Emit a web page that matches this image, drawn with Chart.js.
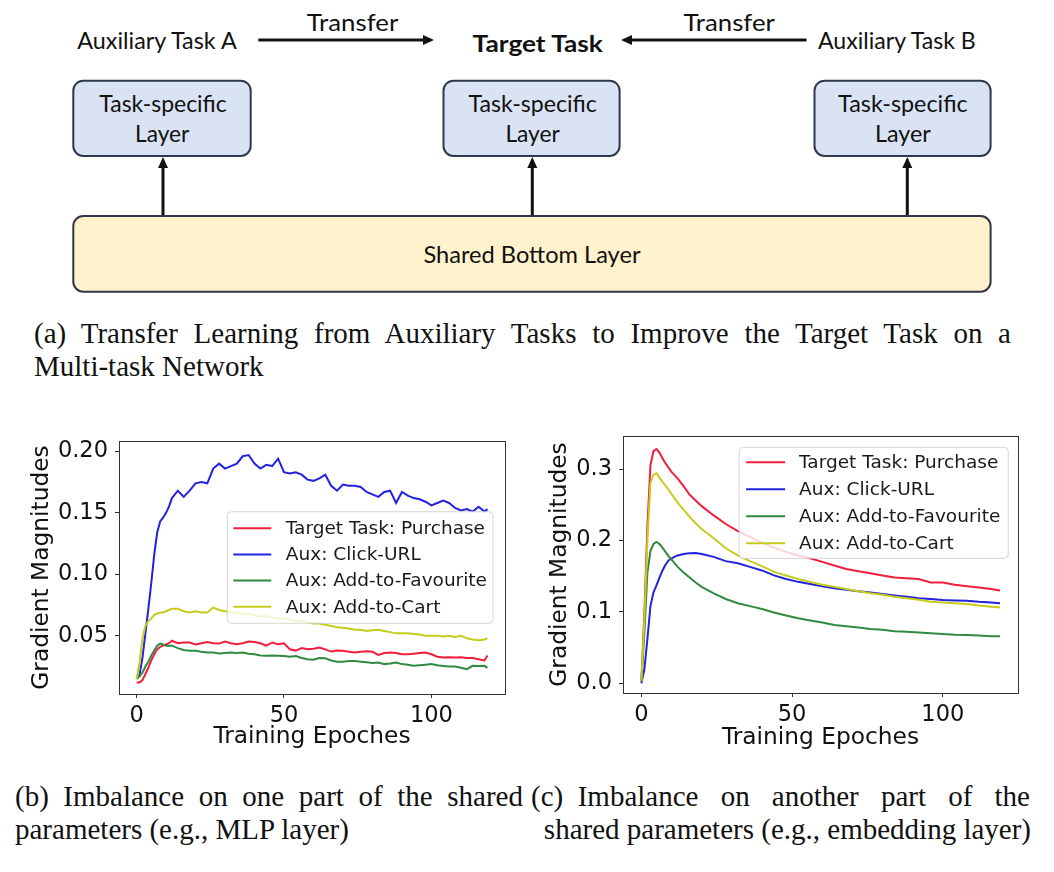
<!DOCTYPE html>
<html>
<head>
<meta charset="utf-8">
<script src="https://cdn.jsdelivr.net/npm/chart.js@4.4.1/dist/chart.umd.min.js"></script>
<style>
html,body{margin:0;padding:0;background:#fff;}
#page{position:relative;width:1054px;height:872px;overflow:hidden;background:#fff;}
#diagram{position:absolute;left:0;top:0;}
.cap{position:absolute;font-family:"Liberation Serif","Times New Roman",serif;font-size:29px;line-height:33px;color:#111;white-space:nowrap;}
.just{text-align:justify;text-align-last:justify;}
canvas{position:absolute;}
</style>
</head>
<body>
<div id="page">
<svg id="diagram" width="1054" height="300" viewBox="0 0 1054 300" font-family="Lato, 'Open Sans', sans-serif" font-size="23" fill="#111">
  <!-- top labels -->
  <text x="306.7" y="31" textLength="91.6" lengthAdjust="spacingAndGlyphs">Transfer</text>
  <text x="683.5" y="31" textLength="91.4" lengthAdjust="spacingAndGlyphs">Transfer</text>
  <text x="77.3" y="49.3" textLength="159.4" lengthAdjust="spacingAndGlyphs">Auxiliary Task A</text>
  <text x="472.6" y="51.7" font-weight="bold" textLength="130.3" lengthAdjust="spacingAndGlyphs">Target Task</text>
  <text x="818" y="49.3" textLength="157.8" lengthAdjust="spacingAndGlyphs">Auxiliary Task B</text>
  <!-- transfer arrows -->
  <line x1="258.3" y1="40" x2="425" y2="40" stroke="#111" stroke-width="3"/>
  <polygon points="434,40 423,35 423,45" fill="#111"/>
  <line x1="630" y1="40" x2="806.5" y2="40" stroke="#111" stroke-width="3"/>
  <polygon points="621,40 632,35 632,45" fill="#111"/>
  <!-- task specific boxes -->
  <rect x="73.3" y="80.7" width="177.4" height="75.3" rx="10" fill="#dae3f3" stroke="#2d3a4c" stroke-width="2"/>
  <rect x="443.5" y="80.7" width="176.1" height="75.3" rx="10" fill="#dae3f3" stroke="#2d3a4c" stroke-width="2"/>
  <rect x="814.5" y="80.7" width="176.1" height="75.3" rx="10" fill="#dae3f3" stroke="#2d3a4c" stroke-width="2"/>
  <text x="163" y="111.7" text-anchor="middle" textLength="127.4" lengthAdjust="spacingAndGlyphs">Task-specific</text>
  <text x="532.6" y="111.7" text-anchor="middle" textLength="128.4" lengthAdjust="spacingAndGlyphs">Task-specific</text>
  <text x="902.9" y="111.7" text-anchor="middle" textLength="129.7" lengthAdjust="spacingAndGlyphs">Task-specific</text>
  <text x="162.2" y="141.7" text-anchor="middle" textLength="54.3" lengthAdjust="spacingAndGlyphs">Layer</text>
  <text x="532.6" y="141.7" text-anchor="middle" textLength="54.4" lengthAdjust="spacingAndGlyphs">Layer</text>
  <text x="902.9" y="141.7" text-anchor="middle" textLength="55.8" lengthAdjust="spacingAndGlyphs">Layer</text>
  <!-- up arrows -->
  <line x1="163" y1="216" x2="163" y2="166" stroke="#111" stroke-width="3"/>
  <polygon points="163,157 158,168 168,168" fill="#111"/>
  <line x1="532.3" y1="216" x2="532.3" y2="166" stroke="#111" stroke-width="3"/>
  <polygon points="532.3,157 527.3,168 537.3,168" fill="#111"/>
  <line x1="907.3" y1="216" x2="907.3" y2="166" stroke="#111" stroke-width="3"/>
  <polygon points="907.3,157 902.3,168 912.3,168" fill="#111"/>
  <!-- shared bottom -->
  <rect x="73.3" y="216" width="917.3" height="75.7" rx="10" fill="#fff2cc" stroke="#33364a" stroke-width="2"/>
  <text x="532" y="263.3" text-anchor="middle" textLength="217" lengthAdjust="spacingAndGlyphs">Shared Bottom Layer</text>
</svg>

<div class="cap just" style="left:34px;top:316.7px;width:977px;">(a)&ensp;Transfer Learning from Auxiliary Tasks to Improve the Target Task on a</div>
<div class="cap" style="left:34px;top:349.7px;">Multi-task Network</div>

<canvas id="chartB" width="530" height="340" style="left:0;top:420px;width:530px;height:340px;"></canvas>
<canvas id="chartC" width="524" height="340" style="left:530px;top:420px;width:524px;height:340px;"></canvas>

<div class="cap just" style="left:15px;top:780.4px;width:508px;">(b)&ensp;Imbalance on one part of the shared</div>
<div class="cap" style="left:15px;top:813.4px;">parameters (e.g., MLP layer)</div>
<div class="cap just" style="left:531px;top:780.4px;width:499px;">(c)&ensp;Imbalance on another part of the</div>
<div class="cap" style="left:531px;top:813.4px;width:500px;text-align:right;">shared parameters (e.g., embedding layer)</div>
</div>

<script>
// ---------------- data ----------------
const seriesLabels = ['Target Task: Purchase', 'Aux: Click-URL', 'Aux: Add-to-Favourite', 'Aux: Add-to-Cart'];
const xTickValues = [0, 50, 100];
const yTickValuesB = [0.05, 0.10, 0.15, 0.20];
const yTickValuesC = [0.0, 0.1, 0.2, 0.3];
const xTitle = 'Training Epoches';
const yTitle = 'Gradient Magnitudes';

// (b) MLP layer
const epochsB = [0,1,2,3,4,5,6,7,8,9,10,11,12,14,16,18,20,22,24,26,28,30,32,34,36,38,40,42,44,46,48,50,52,54,56,58,60,62,64,66,68,70,72,74,76,78,80,82,84,86,88,90,92,94,96,98,100,102,104,106,108,110,112,114,116,118,119];
const purchaseB = [0.012,0.012,0.014,0.019,0.024,0.030,0.035,0.039,0.041,0.042,0.043,0.044,0.046,
  0.044,0.0445,0.0445,0.043,0.044,0.045,0.044,0.0437,0.0454,0.044,
  0.0432,0.044,0.0454,0.045,0.044,0.042,0.0446,0.0432,0.044,0.039,
  0.038,0.040,0.039,0.0395,0.0405,0.039,0.0372,0.038,0.0378,0.037,
  0.0364,0.037,0.0375,0.037,0.0345,0.036,0.0364,0.036,0.035,0.035,
  0.0355,0.036,0.0364,0.035,0.033,0.0324,0.0325,0.0324,0.0325,0.032,
  0.032,0.031,0.030,0.034];
const clickB = [0.015,0.018,0.032,0.052,0.072,0.093,0.116,0.134,0.143,0.146,0.150,0.155,0.162,
  0.168,0.163,0.168,0.174,0.175,0.174,0.186,0.190,0.186,0.188,
  0.190,0.196,0.197,0.190,0.186,0.189,0.188,0.194,0.183,0.182,
  0.183,0.181,0.177,0.176,0.178,0.181,0.172,0.168,0.173,0.172,
  0.172,0.171,0.167,0.165,0.163,0.167,0.168,0.158,0.167,0.164,
  0.162,0.161,0.159,0.156,0.158,0.160,0.158,0.154,0.152,0.153,
  0.151,0.155,0.151,0.153];
const favouriteB = [0.015,0.017,0.020,0.025,0.029,0.034,0.038,0.042,0.0437,0.043,0.042,0.042,0.042,
  0.040,0.0385,0.0378,0.0378,0.037,0.0364,0.0365,0.0356,0.036,0.0364,
  0.036,0.0364,0.0355,0.035,0.034,0.0337,0.034,0.0337,0.0335,0.033,
  0.0335,0.032,0.031,0.0305,0.032,0.0318,0.030,0.029,0.029,0.0295,
  0.0296,0.029,0.0285,0.028,0.0283,0.027,0.0275,0.0283,0.027,0.0265,
  0.0256,0.026,0.0265,0.027,0.026,0.0255,0.025,0.025,0.024,0.0229,
  0.0256,0.0255,0.0256,0.024];
const cartB = [0.015,0.028,0.048,0.058,0.062,0.064,0.067,0.068,0.069,0.069,0.070,0.071,0.072,
  0.072,0.070,0.069,0.070,0.069,0.069,0.073,0.071,0.070,0.069,
  0.069,0.068,0.068,0.067,0.066,0.066,0.065,0.064,0.064,0.063,
  0.062,0.062,0.061,0.060,0.060,0.059,0.058,0.057,0.0565,0.056,
  0.055,0.055,0.054,0.0545,0.055,0.054,0.053,0.052,0.052,0.052,
  0.0515,0.051,0.050,0.050,0.050,0.0495,0.050,0.049,0.050,0.048,
  0.047,0.0465,0.047,0.048];

// (c) embedding layer
const epochsC = [0,1,2,3,4,5,6,7,8,9,10,12,14,16,18,20,24,28,32,36,40,44,48,52,56,60,64,68,72,76,80,84,88,92,96,100,104,108,112,116,119];
const purchaseC = [0.003,0.10,0.22,0.305,0.325,0.328,0.323,0.315,0.308,0.302,0.296,
  0.287,0.276,0.264,0.256,0.248,0.235,0.223,0.213,0.205,0.197,0.190,0.184,0.179,0.175,
  0.170,0.165,0.160,0.157,0.154,0.151,0.148,0.147,0.146,0.141,0.141,0.138,0.136,0.134,0.132,0.130];
const clickC = [0.0,0.02,0.062,0.108,0.127,0.137,0.148,0.158,0.166,0.172,0.175,
  0.179,0.181,0.182,0.1825,0.181,0.177,0.171,0.168,0.163,0.158,0.151,0.146,0.142,0.139,
  0.136,0.133,0.131,0.129,0.127,0.125,0.123,0.121,0.119,0.118,0.1165,0.116,0.1155,0.114,0.113,0.112];
const favouriteC = [0.003,0.07,0.155,0.185,0.195,0.198,0.195,0.190,0.184,0.178,0.173,
  0.163,0.155,0.148,0.141,0.135,0.126,0.118,0.112,0.108,0.104,0.099,0.095,0.091,0.088,
  0.085,0.0815,0.080,0.078,0.076,0.075,0.073,0.072,0.071,0.070,0.069,0.068,0.0675,0.067,0.066,0.066];
const cartC = [0.003,0.09,0.20,0.280,0.292,0.294,0.288,0.282,0.277,0.271,0.265,
  0.253,0.243,0.233,0.224,0.216,0.203,0.189,0.179,0.171,0.164,0.156,0.151,0.146,0.142,
  0.138,0.135,0.132,0.129,0.126,0.124,0.121,0.119,0.117,0.114,0.113,0.112,0.111,0.109,0.107,0.106];

// ---------------- styling ----------------
const seriesColors = ['#f21d3d', '#2222e0', '#318a40', '#c6cc1c'];
const frameColor = '#333333';
const FONT = '"DejaVu Sans", sans-serif';

const framePlugin = {
  id: 'mplFrame',
  afterDatasetsDraw(chart) {
    const {ctx, chartArea: a} = chart;
    ctx.save();
    ctx.strokeStyle = frameColor;
    ctx.lineWidth = 1;
    ctx.strokeRect(Math.round(a.left) + 0.5, Math.round(a.top) + 0.5, Math.round(a.right - a.left), Math.round(a.bottom - a.top));
    ctx.restore();
  }
};

const legendPlugin = {
  id: 'mplLegend',
  afterDatasetsDraw(chart, args, o) {
    const {ctx, chartArea: a} = chart;
    const ds = chart.data.datasets;
    ctx.save();
    ctx.font = o.fontSize + 'px ' + FONT;
    const tw = Math.max(...ds.map(d => ctx.measureText(d.label).width));
    const w = o.textX + tw + o.padR;
    const h = 2 * o.padV + (ds.length - 1) * o.rowGap;
    const x = a.right - o.offsetRight - w;
    const y = o.anchor === 'center' ? (a.top + a.bottom) / 2 - h / 2 : a.top + o.offsetTop;
    const r = 4;
    ctx.beginPath();
    ctx.moveTo(x + r, y);
    ctx.arcTo(x + w, y, x + w, y + h, r);
    ctx.arcTo(x + w, y + h, x, y + h, r);
    ctx.arcTo(x, y + h, x, y, r);
    ctx.arcTo(x, y, x + w, y, r);
    ctx.closePath();
    ctx.fillStyle = 'rgba(255,255,255,0.8)';
    ctx.fill();
    ctx.strokeStyle = 'rgba(204,204,204,0.8)';
    ctx.lineWidth = 1;
    ctx.stroke();
    ds.forEach((d, i) => {
      const cy = y + o.padV + i * o.rowGap;
      ctx.strokeStyle = d.borderColor;
      ctx.lineWidth = 2;
      ctx.beginPath();
      ctx.moveTo(x + o.h0, cy);
      ctx.lineTo(x + o.h1, cy);
      ctx.stroke();
      ctx.fillStyle = '#1a1a1a';
      ctx.textBaseline = 'middle';
      ctx.textAlign = 'left';
      ctx.fillText(d.label, x + o.textX, cy + 1);
    });
    ctx.restore();
  }
};

function makeChart(id, epochs, series, cfg) {
  const datasets = series.map((vals, i) => ({
    label: seriesLabels[i],
    data: epochs.map((e, j) => ({x: e, y: vals[j]})),
    borderColor: seriesColors[i],
    backgroundColor: seriesColors[i],
    borderWidth: 2,
    pointRadius: 0,
    tension: 0,
    fill: false,
    order: series.length - i
  }));
  const tickFont = {family: FONT, size: 22.5};
  const titleFont = {family: FONT, size: 23.3, lineHeight: 1.2};
  return new Chart(document.getElementById(id), {
    type: 'line',
    data: {datasets},
    options: {
      responsive: false,
      animation: false,
      devicePixelRatio: 1,
      layout: {padding: cfg.padding},
      plugins: {
        legend: {display: false},
        tooltip: {enabled: false},
        mplLegend: cfg.legend
      },
      scales: {
        x: {
          type: 'linear',
          min: cfg.xMin, max: cfg.xMax,
          afterBuildTicks: s => { s.ticks = xTickValues.map(v => ({value: v})); },
          afterFit: s => { s.height = cfg.xHeight; s.paddingLeft = 0; s.paddingRight = 0; },
          grid: {display: true, drawOnChartArea: false, drawTicks: true, tickLength: 4, color: frameColor, lineWidth: 1},
          border: {display: true, color: frameColor, width: 1},
          ticks: {font: tickFont, color: '#111', padding: cfg.xTickPad, maxRotation: 0, autoSkip: false, callback: v => String(v)},
          title: {display: true, text: xTitle, font: titleFont, color: '#111', padding: {top: 0, bottom: cfg.xTitlePad}}
        },
        y: {
          type: 'linear',
          min: cfg.yMin, max: cfg.yMax,
          afterBuildTicks: s => { s.ticks = cfg.yTicks.map(v => ({value: v})); },
          afterFit: s => { s.width = cfg.yWidth; s.paddingTop = 0; s.paddingBottom = 0; },
          grid: {display: true, drawOnChartArea: false, drawTicks: true, tickLength: 4, color: frameColor, lineWidth: 1},
          border: {display: true, color: frameColor, width: 1},
          ticks: {font: tickFont, color: '#111', padding: 7, autoSkip: false, callback: v => Number(v).toFixed(cfg.yDecimals)},
          title: {display: true, text: yTitle, font: titleFont, color: '#111', padding: {top: cfg.yTitlePad, bottom: 0}}
        }
      }
    },
    plugins: [framePlugin, legendPlugin]
  });
}

makeChart('chartB', epochsB, [purchaseB, clickB, favouriteB, cartB], {
  padding: {left: 0, top: 21, right: 25, bottom: 0},
  xMin: -5.95, xMax: 124.95, yMin: 0.0027, yMax: 0.2084,
  yTicks: yTickValuesB, yDecimals: 2,
  xHeight: 66, yWidth: 119, xTickPad: 5, xTitlePad: 9.3, yTitlePad: 27.7,
  legend: {anchor: 'center', offsetRight: 12, fontSize: 18.5, rowGap: 26.2, padV: 16.5, h0: 6, h1: 44, textX: 58.5, padR: 6}
});

makeChart('chartC', epochsC, [purchaseC, clickC, favouriteC, cartC], {
  padding: {left: 0, top: 16, right: 36, bottom: 0},
  xMin: -6.1, xMax: 124.95, yMin: -0.0136, yMax: 0.3462,
  yTicks: yTickValuesC, yDecimals: 1,
  xHeight: 67, yWidth: 93, xTickPad: 5, xTitlePad: 7.7, yTitlePad: 16,
  legend: {anchor: 'top', offsetRight: 9.7, offsetTop: 11.3, fontSize: 18.5, rowGap: 27, padV: 15, h0: 7, h1: 46, textX: 60, padR: 8}
});
</script>
</body>
</html>
